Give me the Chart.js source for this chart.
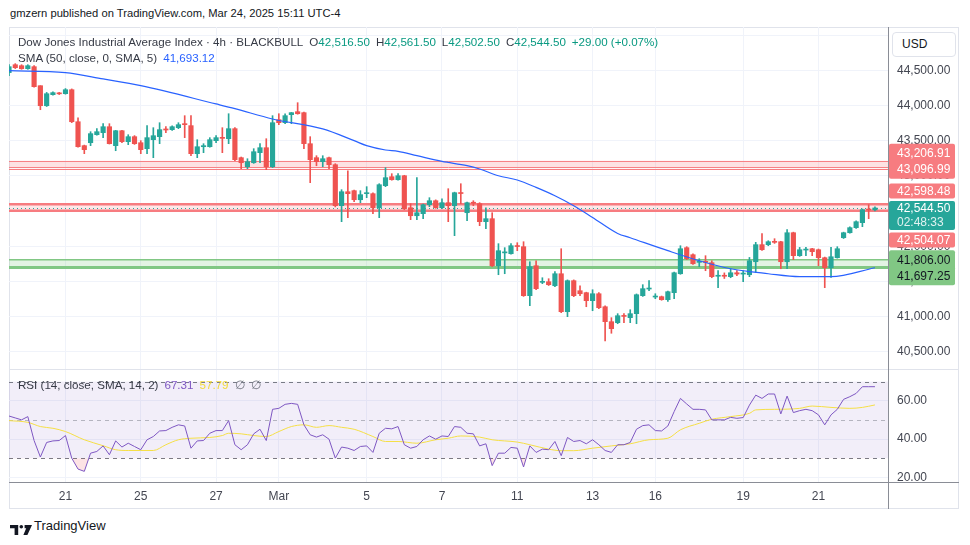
<!DOCTYPE html>
<html>
<head>
<meta charset="utf-8">
<script src="https://cdn.jsdelivr.net/npm/chart.js@4.4.1/dist/chart.umd.min.js"></script>
<style>
  body { margin: 0; width: 970px; height: 545px; overflow: hidden; background: #fff; position: relative;
         font-family: "Liberation Sans", Arial, sans-serif; color: #131722; }
  .abs { position: absolute; white-space: nowrap; }
  canvas { position: absolute; }
  .legend { font-size: 11.6px; line-height: 14px; color: #363a45; }
  .legend .g { margin-left: 6px; }
  .up { color: #089981; }
  .line { position: absolute; }
</style>
</head>
<body>

<div class="abs" style="left:10px; top:6px; font-size:11.2px; line-height:14px;">gmzern published on TradingView.com, Mar 24, 2025 15:11 UTC-4</div>

<div class="line" style="left:9px; top:27px; width:950px; height:482px; border:1px solid #e0e3eb; box-sizing:border-box;"></div>

<canvas id="priceChart" width="950" height="342" style="left:9px; top:27px;"></canvas>
<canvas id="rsiChart" width="950" height="140" style="left:9px; top:369px;"></canvas>

<div class="line" style="left:9px; top:369px; width:950px; height:1px; background:#e0e3eb;"></div>
<div class="line" style="left:888px; top:27px; width:1px; height:482px; background:#8a8d96;"></div>
<div class="line" style="left:9px; top:482px; width:950px; height:1px; background:#8a8d96;"></div>

<div class="abs" style="left:892px; top:32px; width:64px; height:25px; border:1px solid #e0e3eb; border-radius:4px; box-sizing:border-box; background:#fff; font-size:12px; line-height:23px; padding-left:9px;">USD</div>

<div class="abs legend" style="left:18px; top:35px;">Dow Jones Industrial Average Index · 4h · BLACKBULL<span id="ohlc"></span></div>
<div class="abs legend" style="left:18px; top:51px;">SMA (50, close, 0, SMA, 5)<span id="smaVal" class="g" style="color:#2962ff;"></span></div>
<div class="abs legend" style="left:18px; top:378px;">RSI (14, close, SMA, 14, 2)<span id="rsiVal" class="g" style="color:#7e57c2;"></span><span id="rsiMaVal" class="g" style="color:#f2da3a;"></span><span class="g" style="color:#787b86;">∅</span><span class="g" style="color:#787b86;">∅</span></div>

<div class="abs" style="left:10px; top:521px;">
  <svg width="22" height="10" viewBox="0 0 22 10">
    <path d="M0 0H8.2V10H4.6V3.2H0Z" fill="#131722"/>
    <circle cx="11.3" cy="1.8" r="1.8" fill="#131722"/>
    <path d="M14.6 0H22L17.4 10H13.4L16.2 3.2H14.6Z" fill="#131722"/>
  </svg>
</div>
<div class="abs" style="left:34px; top:518px; font-size:13px; line-height:16px;">TradingView</div>

<script>
// 4h candles, index 0 = oldest visible bar
const opens = [
  44472, 44585, 44571, 44528, 44557, 44286, 44001, 44158, 44180, 44172,
  44229, 43773, 43432, 43474, 43588, 43617, 43702, 43432, 43645, 43489,
  43560, 43474, 43389, 43517, 43560, 43670, 43660, 43688, 43740, 43717,
  43318, 43417, 43417, 43503, 43546, 43531, 43674, 43261, 43132, 43189,
  43332, 43403, 43132, 43802, 43759, 43873, 43916, 43902, 43460, 43261,
  43204, 43261, 43161, 42577, 42776, 42791, 42662, 42748, 42748, 42548,
  42862, 42990, 42947, 43004, 42548, 42434, 42463, 42591, 42648, 42548,
  42620, 42577, 42762, 42477, 42625, 42605, 42349, 42392, 41722, 41905,
  41893, 42000, 41993, 41295, 41722, 41485, 41494, 41437, 41608, 41067,
  41509, 41366, 41338, 41224, 41323, 41138, 40925, 40911, 41010, 40982,
  41039, 41295, 41390, 41276, 41281, 41238, 41338, 41608, 41979, 41879,
  41770, 41779, 41765, 41572, 41580, 41566, 41622, 41603, 41594, 41779,
  42022, 42022, 42064, 42064, 41779, 42192, 41865, 41945, 41964, 41950,
  41836, 41694, 41836, 42121, 42192, 42264, 42335, 42520, 42516.5
];
const highs = [
  44585, 44600, 44585, 44585, 44571, 44286, 44190, 44200, 44190, 44245,
  44240, 43830, 43440, 43631, 43674, 43745, 43745, 43650, 43650, 43588,
  43575, 43503, 43717, 43688, 43759, 43702, 43715, 43759, 43859, 43859,
  43517, 43460, 43546, 43574, 43688, 43887, 43688, 43270, 43246, 43389,
  43460, 43531, 43859, 43887, 43887, 43905, 44044, 43910, 43560, 43289,
  43289, 43270, 43175, 42805, 43075, 42800, 42791, 42848, 42760, 42890,
  43118, 43033, 43033, 43010, 42605, 42976, 42600, 42691, 42660, 42676,
  42819, 42770, 42890, 42630, 42648, 42620, 42548, 42477, 42036, 41979,
  42036, 42050, 42064, 41779, 41793, 41551, 41537, 41637, 41964, 41520,
  41520, 41437, 41345, 41380, 41338, 41150, 40982, 41039, 41039, 41095,
  41320, 41452, 41509, 41323, 41290, 41360, 41630, 42007, 41993, 41890,
  41822, 41865, 41793, 41651, 41620, 41679, 41651, 41651, 41840, 42055,
  42178, 42078, 42107, 42070, 42235, 42200, 41983, 41983, 41970, 41960,
  41845, 41983, 41993, 42200, 42275, 42360, 42530, 42591, 42561.5
];
const lows = [
  44430, 44530, 44520, 44520, 44265, 43944, 43990, 44150, 44160, 44165,
  43760, 43410, 43318, 43432, 43580, 43546, 43455, 43360, 43475, 43446,
  43450, 43318, 43318, 43261, 43460, 43617, 43650, 43674, 43546, 43289,
  43261, 43332, 43410, 43474, 43332, 43460, 43218, 43104, 43104, 43180,
  43189, 43090, 43120, 43731, 43745, 43745, 43880, 43389, 42905, 43146,
  43132, 43104, 42560, 42349, 42406, 42634, 42620, 42691, 42463, 42406,
  42848, 42940, 42940, 42520, 42378, 42378, 42392, 42563, 42540, 42534,
  42349, 42150, 42605, 42363, 42577, 42292, 42249, 41710, 41594, 41608,
  41885, 41936, 41285, 41153, 41380, 41466, 41440, 41423, 41053, 40996,
  41281, 41295, 41138, 41081, 41110, 40650, 40760, 40896, 40911, 40911,
  40896, 41285, 41366, 41252, 41230, 41215, 41252, 41600, 41808, 41740,
  41708, 41651, 41551, 41409, 41540, 41551, 41580, 41495, 41566, 41627,
  41940, 42007, 42040, 41679, 41679, 41808, 41855, 41865, 41865, 41722,
  41409, 41555, 41830, 42110, 42185, 42255, 42278, 42392, 42502.5
];
const closes = [
  44557, 44543, 44528, 44571, 44272, 44001, 44172, 44187, 44170, 44229,
  43773, 43417, 43375, 43603, 43631, 43702, 43460, 43645, 43489, 43560,
  43460, 43375, 43546, 43574, 43660, 43655, 43702, 43731, 43731, 43318,
  43417, 43432, 43517, 43546, 43536, 43674, 43232, 43189, 43204, 43346,
  43403, 43132, 43759, 43759, 43859, 43902, 43887, 43460, 43232, 43204,
  43246, 43161, 42577, 42776, 42748, 42662, 42734, 42755, 42548, 42876,
  42976, 42947, 43004, 42534, 42434, 42477, 42591, 42648, 42548, 42620,
  42577, 42762, 42750, 42620, 42612, 42349, 42392, 41722, 41936, 41912,
  42007, 41995, 41295, 41708, 41395, 41494, 41452, 41608, 41067, 41509,
  41295, 41323, 41224, 41323, 41124, 40925, 40825, 41010, 41000, 41039,
  41309, 41395, 41400, 41286, 41238, 41352, 41622, 41964, 41822, 41751,
  41779, 41770, 41566, 41580, 41572, 41622, 41603, 41612, 41793, 42022,
  41950, 42064, 42055, 41779, 42192, 41865, 41950, 41955, 41922, 41836,
  41694, 41850, 41964, 42192, 42264, 42349, 42520, 42515.5, 42544.5
];

// SMA 50 read at a set of bar positions
const smaIdx  = [0, 9, 15, 21, 33, 36, 42, 50, 55, 57, 60, 62, 65, 69, 73, 75, 78, 81, 84, 87, 90, 93, 97, 99, 105, 110, 115, 121, 126, 131, 138];
const smaVals = [44500, 44472, 44382, 44286, 44026, 43959, 43812, 43670, 43503, 43432, 43370, 43350, 43289, 43208, 43147, 43100, 43004, 42943, 42838, 42719, 42577, 42410, 42182, 42121, 41936, 41793, 41679, 41608, 41566, 41566, 41693.12];

// RSI (14), one value per bar
const rsiVals = [
  52.0, 51.0, 50.0, 51.7, 39.2, 30.6, 38.2, 39.0, 39.2, 41.8,
  30.0, 24.3, 23.1, 32.6, 33.5, 36.4, 31.8, 39.0, 35.8, 37.8,
  36.1, 34.4, 39.6, 41.3, 44.2, 44.4, 46.1, 47.4, 46.8, 35.2,
  39.0, 39.2, 43.0, 44.4, 44.4, 49.6, 37.0, 34.4, 37.0, 42.7,
  45.1, 39.2, 55.5, 56.0, 58.1, 58.6, 58.1, 47.4, 42.2, 41.0,
  42.2, 39.9, 30.0, 35.8, 35.2, 34.0, 36.1, 36.4, 33.0, 43.0,
  45.6, 45.3, 46.5, 37.0, 35.2, 36.1, 39.6, 41.6, 39.9, 41.6,
  41.3, 46.5, 46.1, 43.0, 42.7, 36.4, 37.5, 26.1, 32.6, 32.6,
  35.6, 35.2, 25.4, 36.4, 33.0, 34.7, 34.4, 38.7, 31.3, 40.8,
  38.7, 39.2, 37.5, 39.6, 37.0, 34.0, 33.0, 37.0, 37.0, 38.2,
  45.1, 47.0, 47.4, 44.4, 44.2, 46.8, 54.3, 61.2, 58.3, 55.5,
  55.5, 55.2, 50.0, 50.0, 50.0, 51.3, 50.8, 51.2, 57.7, 62.9,
  61.2, 63.5, 63.5, 53.1, 62.4, 53.8, 54.8, 55.5, 54.8, 52.6,
  47.4, 52.6, 55.5, 60.7, 62.1, 63.8, 67.3, 67.3, 67.31
];
// RSI-based MA read at a set of bar positions
const rsiMaIdx  = [0, 3, 5, 7, 9, 12, 15, 17, 19, 21, 23, 25, 27, 29, 32, 34, 35, 37, 39, 41, 43, 45, 47, 49, 51, 53, 55, 58, 60, 62, 65, 68, 70, 72, 75, 77, 81, 83, 86, 88, 90, 93, 96, 99, 102, 105, 107, 110, 112, 115, 118, 119, 122, 126, 128, 131, 134, 136, 138];
const rsiMaVals = [49.6, 48.7, 46.5, 45.6, 43.9, 39.6, 36.5, 34.4, 34.0, 34.0, 34.0, 37.0, 39.6, 40.4, 40.8, 41.8, 43.0, 42.7, 41.8, 41.3, 43.9, 46.5, 47.4, 46.1, 47.0, 46.1, 45.1, 41.3, 38.7, 38.7, 37.8, 39.6, 40.4, 41.6, 41.0, 39.6, 38.4, 37.0, 34.7, 33.9, 33.9, 35.2, 36.4, 37.5, 39.6, 40.4, 44.8, 48.2, 50.3, 51.7, 53.4, 55.2, 55.5, 56.0, 57.2, 56.5, 56.0, 56.5, 57.79];

// date axis
const tickIdx    = [9, 21, 33, 43, 57, 69, 81, 93, 103, 117, 129];
const tickLabels = ['21', '25', '27', 'Mar', '5', '7', '11', '13', '16', '19', '21'];

// drawn levels
const zoneTops    = [43206.91, 42598.48, 41806.00];
const zoneBottoms = [43120.00, 42504.07, 41697.25];
const extraLines  = [43096.99];
const levelPrices = [43206.91, 43096.99, 42598.48, 42504.07, 41806.00, 41697.25];
const levelKinds  = ['sell', 'sell', 'sell', 'sell', 'buy', 'buy'];
const countdown = '02:48:33';

// view ranges
const xMax = 140.08;
const priceMin = 40251, priceMax = 45122;
const rsiMin = 17.55, rsiMax = 76.55;

const UP = '#26a69a', DOWN = '#ef5350';
const last = closes.length - 1;
const lastPrice = closes[last];

Chart.defaults.font.family = '"Liberation Sans", Arial, sans-serif';
Chart.defaults.font.size = 12;

function fmt(v) {
  return v.toLocaleString('en-US', { minimumFractionDigits: 2, maximumFractionDigits: 2 });
}

function candleColor(i) {
  return closes[i] >= opens[i] ? UP : DOWN;
}

// legend texts
const change = closes[last] - closes[last - 1];
document.querySelector('#ohlc').innerHTML =
  `<span class="g">O</span><span class="up">${fmt(opens[last])}</span>` +
  `<span class="g">H</span><span class="up">${fmt(highs[last])}</span>` +
  `<span class="g">L</span><span class="up">${fmt(lows[last])}</span>` +
  `<span class="g">C</span><span class="up">${fmt(closes[last])}</span>` +
  `<span class="g up">+${fmt(change)} (+${(change / closes[last - 1] * 100).toFixed(2)}%)</span>`;
document.querySelector('#smaVal').textContent = fmt(smaVals[smaVals.length - 1]);
document.querySelector('#rsiVal').textContent = rsiVals[rsiVals.length - 1].toFixed(2);
document.querySelector('#rsiMaVal').textContent = rsiMaVals[rsiMaVals.length - 1].toFixed(2);

function hLine(ctx, area, y) {
  ctx.beginPath();
  ctx.moveTo(area.left, y);
  ctx.lineTo(area.right, y);
  ctx.stroke();
}

// scales must not reserve label padding, the panes are fixed
function noPadding(s) {
  s.paddingTop = 0;
  s.paddingBottom = 0;
  s.paddingLeft = 0;
  s.paddingRight = 0;
}

const zoneStyles = [
  { fill: 'rgba(247,124,128,0.22)', line: '#f77c80', top: 1, bottom: 1 },
  { fill: 'rgba(247,124,128,0.18)', line: '#f77c80', top: 2.5, bottom: 2.5 },
  { fill: 'rgba(129,199,132,0.22)', line: '#81c784', top: 1.5, bottom: 3 }
];

const zonePlugin = {
  id: 'zones',
  beforeDatasetsDraw(chart) {
    const { ctx, chartArea: a } = chart;
    const y = chart.scales.y;
    ctx.save();
    ctx.beginPath();
    ctx.rect(a.left, a.top, a.width, a.height);
    ctx.clip();
    zoneTops.forEach((top, i) => {
      const st = zoneStyles[i];
      const y1 = y.getPixelForValue(top);
      const y2 = y.getPixelForValue(zoneBottoms[i]);
      ctx.fillStyle = st.fill;
      ctx.fillRect(a.left, y1, a.width, y2 - y1);
      ctx.strokeStyle = st.line;
      ctx.lineWidth = st.top;
      hLine(ctx, a, y1);
      ctx.lineWidth = st.bottom;
      hLine(ctx, a, y2);
    });
    ctx.strokeStyle = '#f77c80';
    ctx.lineWidth = 1;
    extraLines.forEach(p => hLine(ctx, a, Math.round(y.getPixelForValue(p)) + 0.5));
    ctx.strokeStyle = UP;
    ctx.setLineDash([1, 3]);
    hLine(ctx, a, Math.round(y.getPixelForValue(lastPrice)) + 0.5);
    ctx.restore();
  }
};

function box(ctx, x, y, w, h, color) {
  ctx.fillStyle = color;
  ctx.beginPath();
  ctx.roundRect(x, y, w, h, 2);
  ctx.fill();
}

const labelPlugin = {
  id: 'priceLabels',
  afterDraw(chart) {
    const { ctx, chartArea: a } = chart;
    const y = chart.scales.y;
    const bx = a.right + 1, bw = 66, tx = a.right + 9, half = 8;
    const cur = y.getPixelForValue(lastPrice);
    const curTop = cur - 7, curBot = cur + 22;

    const items = levelPrices.map((p, i) => ({ p, kind: levelKinds[i], c: y.getPixelForValue(p), stacked: false }));
    // push labels away from the last price box, same-colour neighbours get stacked into one box
    let edge = curTop, prev = null;
    items.filter(d => d.p > lastPrice).sort((m, n) => n.c - m.c).forEach(d => {
      const same = prev && prev.kind === d.kind;
      const gap = same ? 0 : 2;
      if (d.c + half > edge - gap) {
        d.c = edge - gap - half;
        if (same) { d.stacked = true; prev.stacked = true; }
      }
      edge = d.c - half; prev = d;
    });
    edge = curBot; prev = null;
    items.filter(d => d.p < lastPrice).sort((m, n) => m.c - n.c).forEach(d => {
      const same = prev && prev.kind === d.kind;
      const gap = same ? 0 : 2;
      if (d.c - half < edge + gap) {
        d.c = edge + gap + half;
        if (same) { d.stacked = true; prev.stacked = true; }
      }
      edge = d.c + half; prev = d;
    });

    ctx.save();
    ctx.font = '12px "Liberation Sans", Arial, sans-serif';
    ctx.textBaseline = 'middle';
    items.forEach(d => {
      const pad = d.stacked ? 9.5 : 7.5;
      box(ctx, bx, d.c - pad, bw, pad * 2, d.kind === 'sell' ? '#f77c80' : '#81c784');
    });
    items.forEach(d => {
      ctx.fillStyle = d.kind === 'sell' ? '#ffffff' : '#131722';
      ctx.fillText(fmt(d.p), tx, d.c + 0.5);
    });
    box(ctx, bx, curTop, bw, curBot - curTop, UP);
    ctx.fillStyle = '#ffffff';
    ctx.fillText(fmt(lastPrice), tx, cur + 0.5);
    ctx.fillStyle = 'rgba(255,255,255,0.85)';
    ctx.fillText(countdown, tx, cur + 14.5);
    ctx.restore();
  }
};

const rsiLevelPlugin = {
  id: 'rsiLevels',
  beforeDatasetsDraw(chart) {
    const { ctx, chartArea: a } = chart;
    const y = chart.scales.y;
    const y70 = y.getPixelForValue(70), y50 = y.getPixelForValue(50), y30 = y.getPixelForValue(30);
    ctx.save();
    ctx.fillStyle = 'rgba(126,87,194,0.1)';
    ctx.fillRect(a.left, y70, a.width, y30 - y70);
    ctx.lineWidth = 1;
    ctx.setLineDash([4, 4]);
    ctx.strokeStyle = '#787b86';
    hLine(ctx, a, Math.round(y70) + 0.5);
    hLine(ctx, a, Math.round(y30) + 0.5);
    ctx.strokeStyle = 'rgba(120,123,134,0.5)';
    hLine(ctx, a, Math.round(y50) + 0.5);
    ctx.restore();
  }
};

const gridColor = '#f0f3fa';
const tickColor = '#434651';

function xScale(showLabels) {
  return {
    type: 'linear',
    min: 0,
    max: xMax,
    offset: false,
    grid: { color: gridColor, drawTicks: false, offset: false },
    border: { display: false },
    ticks: {
      display: showLabels,
      color: tickColor,
      padding: 7,
      maxRotation: 0,
      autoSkip: false,
      callback: v => tickLabels[tickIdx.indexOf(v)]
    },
    afterBuildTicks: s => { s.ticks = tickIdx.map(v => ({ value: v })); },
    afterFit: s => { s.height = showLabels ? 27 : 0; noPadding(s); }
  };
}

const bars = opens.map((o, i) => i);

new Chart(document.getElementById('priceChart'), {
  type: 'bar',
  data: {
    datasets: [
      {
        type: 'line',
        data: smaIdx.map((x, i) => ({ x, y: smaVals[i] })),
        borderColor: '#2962ff',
        borderWidth: 1.2,
        pointRadius: 0,
        cubicInterpolationMode: 'monotone',
        order: 0
      },
      {
        data: bars.map(i => ({ x: i, y: [lows[i], highs[i]] })),
        backgroundColor: c => candleColor(c.dataIndex),
        barThickness: 1,
        grouped: false,
        order: 2
      },
      {
        data: bars.map(i => ({ x: i, y: [opens[i], closes[i]] })),
        backgroundColor: c => candleColor(c.dataIndex),
        barThickness: 4.5,
        minBarLength: 1,
        grouped: false,
        order: 1
      }
    ]
  },
  options: {
    responsive: false,
    animation: false,
    devicePixelRatio: 1,
    layout: { padding: 0, autoPadding: false },
    plugins: { legend: { display: false }, tooltip: { enabled: false } },
    scales: {
      x: xScale(false),
      y: {
        position: 'right',
        min: priceMin,
        max: priceMax,
        grid: { color: gridColor, drawTicks: false },
        border: { display: false },
        // the label right at the top edge sits under the currency box and is left out
        ticks: { color: tickColor, padding: 9, callback: v => (v > priceMax - 300 ? '' : fmt(v)) },
        afterBuildTicks: s => {
          const t = [];
          for (let v = Math.ceil(priceMin / 500) * 500; v <= priceMax; v += 500) t.push({ value: v });
          s.ticks = t;
        },
        afterFit: s => { s.width = 71; noPadding(s); }
      }
    }
  },
  plugins: [zonePlugin, labelPlugin]
});

new Chart(document.getElementById('rsiChart'), {
  type: 'line',
  data: {
    datasets: [
      {
        data: rsiVals.map((v, i) => ({ x: i, y: v })),
        borderColor: '#7e57c2',
        borderWidth: 1,
        pointRadius: 0,
        tension: 0,
        fill: { target: { value: 30 }, above: 'rgba(0,0,0,0)', below: 'rgba(242,54,69,0.14)' },
        order: 0
      },
      {
        data: rsiMaIdx.map((x, i) => ({ x, y: rsiMaVals[i] })),
        borderColor: '#f5df45',
        borderWidth: 1,
        pointRadius: 0,
        cubicInterpolationMode: 'monotone',
        order: 1
      }
    ]
  },
  options: {
    responsive: false,
    animation: false,
    devicePixelRatio: 1,
    layout: { padding: 0, autoPadding: false },
    plugins: { legend: { display: false }, tooltip: { enabled: false } },
    scales: {
      x: xScale(true),
      y: {
        position: 'right',
        min: rsiMin,
        max: rsiMax,
        grid: { color: gridColor, drawTicks: false },
        border: { display: false },
        ticks: { color: tickColor, padding: 9, callback: v => v.toFixed(2) },
        afterBuildTicks: s => { s.ticks = [20, 40, 60].map(v => ({ value: v })); },
        afterFit: s => { s.width = 71; noPadding(s); }
      }
    }
  },
  plugins: [rsiLevelPlugin]
});
</script>
</body>
</html>
